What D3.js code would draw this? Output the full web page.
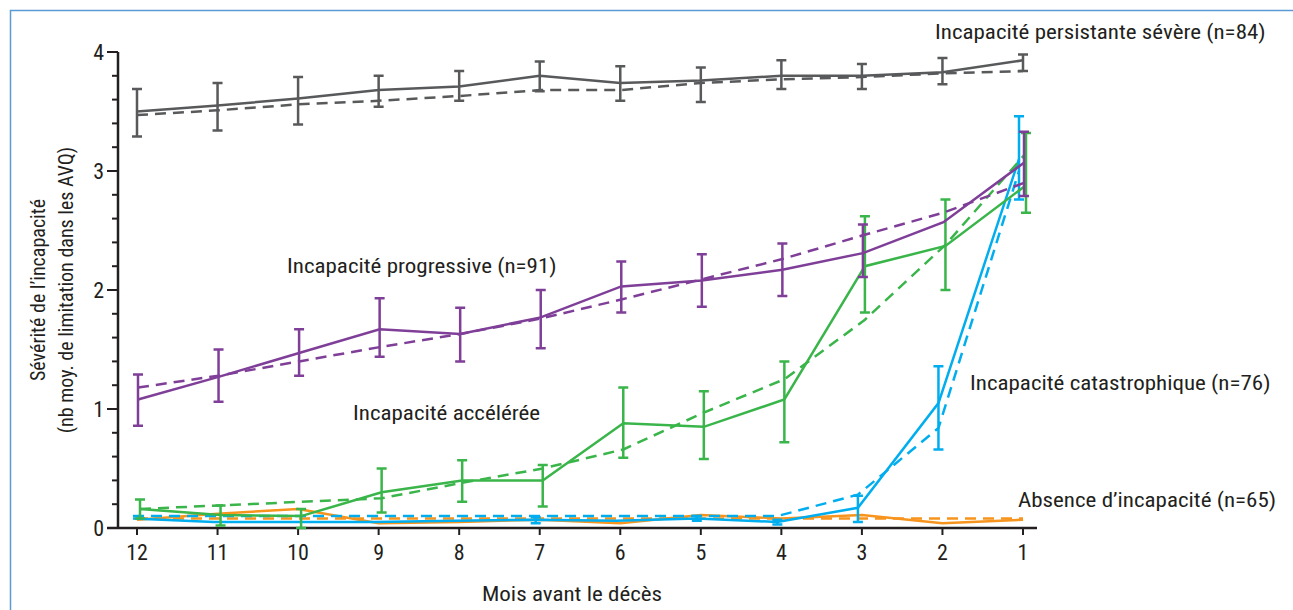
<!DOCTYPE html>
<html>
<head>
<meta charset="utf-8">
<script src="https://cdn.jsdelivr.net/npm/d3@7"></script>
<style>
  body { margin: 0; background: #fff; }
  svg text { font-family: "Liberation Sans Narrow", "Roboto Condensed", "Liberation Sans", sans-serif; fill: #231f20; }
</style>
</head>
<body>
<div id="chart"></div>
<script>
// Données (mois avant le décès : 12 -> 1)
const months = [12, 11, 10, 9, 8, 7, 6, 5, 4, 3, 2, 1];
const yTicks = [0, 1, 2, 3, 4];

// Incapacité persistante sévère
const severeObs  = [3.50, 3.55, 3.61, 3.68, 3.71, 3.80, 3.74, 3.76, 3.80, 3.80, 3.83, 3.93];
const severeFit  = [3.47, 3.51, 3.56, 3.59, 3.63, 3.68, 3.68, 3.74, 3.77, 3.79, 3.82, 3.84];
const severeLow  = [3.29, 3.34, 3.39, 3.54, 3.59, 3.67, 3.59, 3.58, 3.69, 3.69, 3.73, 3.84];
const severeHigh = [3.69, 3.74, 3.79, 3.80, 3.84, 3.92, 3.88, 3.87, 3.93, 3.90, 3.95, 3.98];

// Incapacité progressive
const progObs  = [1.08, 1.27, 1.47, 1.67, 1.63, 1.77, 2.03, 2.08, 2.17, 2.31, 2.57, 3.07];
const progFit  = [1.18, 1.28, 1.40, 1.52, 1.63, 1.76, 1.92, 2.09, 2.26, 2.46, 2.65, 2.90];
const progLow  = [0.86, 1.06, 1.28, 1.44, 1.40, 1.51, 1.81, 1.86, 1.95, 2.11, null, 2.79];
const progHigh = [1.29, 1.50, 1.67, 1.93, 1.85, 2.00, 2.24, 2.30, 2.39, 2.55, null, 3.33];

// Incapacité accélérée
const accObs  = [0.16, 0.11, 0.10, 0.30, 0.40, 0.40, 0.88, 0.85, 1.08, 2.20, 2.37, 2.88];
const accFit  = [0.16, 0.19, 0.22, 0.25, 0.38, 0.50, 0.66, 0.97, 1.25, 1.75, 2.38, 3.15];
const accLow  = [0.08, 0.02, 0.00, 0.13, 0.22, 0.18, 0.59, 0.58, 0.72, 1.81, 2.00, 2.65];
const accHigh = [0.24, 0.19, 0.16, 0.50, 0.57, 0.53, 1.18, 1.15, 1.40, 2.62, 2.76, 3.32];

// Incapacité catastrophique
const catObs  = [0.08, 0.05, 0.05, 0.05, 0.06, 0.07, 0.06, 0.08, 0.05, 0.17, 1.05, 3.10];
const catFit  = [0.10, 0.10, 0.10, 0.10, 0.10, 0.10, 0.10, 0.10, 0.10, 0.28, 0.84, 3.00];
const catLow  = [null, null, null, null, null, 0.04, null, 0.06, 0.03, 0.05, 0.66, 2.76];
const catHigh = [null, null, null, null, null, 0.09, null, 0.10, 0.07, 0.27, 1.36, 3.46];

// Absence d'incapacité
const noneObs = [0.07, 0.12, 0.16, 0.04, 0.05, 0.07, 0.04, 0.11, 0.08, 0.11, 0.04, 0.07];
const noneFit = [0.08, 0.08, 0.08, 0.08, 0.08, 0.08, 0.08, 0.08, 0.08, 0.08, 0.08, 0.08];

const series = [
  { name: "none", color: "#f7941d", dx: 0, obs: noneObs, fit: noneFit, low: null, high: null },
  { name: "cat", color: "#00aeef", dx: -4, obs: catObs, fit: catFit, low: catLow, high: catHigh },
  { name: "acc", color: "#39b54a", dx: 3, obs: accObs, fit: accFit, low: accLow, high: accHigh },
  { name: "prog", color: "#7f3f98", dx: 1, obs: progObs, fit: progFit, low: progLow, high: progHigh },
  { name: "severe", color: "#58595b", dx: 0, obs: severeObs, fit: severeFit, low: severeLow, high: severeHigh }
];

const labels = [
  { text: "Incapacité persistante sévère (n=84)", x: 935, y: 39 },
  { text: "Incapacité progressive (n=91)", x: 287, y: 273 },
  { text: "Incapacité accélérée", x: 353, y: 420 },
  { text: "Incapacité catastrophique (n=76)", x: 970, y: 390 },
  { text: "Absence d\u2019incapacité (n=65)", x: 1018, y: 507 }
];

const width = 1293, height = 610;
const stretch = 1.15; // police condensée plus large dans l'original
const svg = d3.select("#chart").append("svg")
  .attr("width", width).attr("height", height);

// Cadre bleu
svg.append("rect")
  .attr("x", 10.5).attr("y", 10.5)
  .attr("width", width).attr("height", height)
  .attr("fill", "none").attr("stroke", "#5b9bd5").attr("stroke-width", 1.5);

const x = d3.scalePoint().domain(months).range([137, 1023]);
const y = d3.scaleLinear().domain([0, 4]).range([528, 52]);

// Axe Y (graduations principales + secondaires)
const yAxis = svg.append("g").attr("transform", "translate(118,0)");
yAxis.append("line").attr("y1", y(4)).attr("y2", y(0)).attr("stroke", "#231f20").attr("stroke-width", 2.5);
yAxis.selectAll(".minor").data(d3.range(0, 4.001, 0.2)).join("line")
  .attr("x1", d => (Math.abs(d - Math.round(d)) < 1e-6) ? -11 : -6).attr("x2", 0)
  .attr("y1", d => y(d)).attr("y2", d => y(d))
  .attr("stroke", "#231f20").attr("stroke-width", 2);
yAxis.selectAll(".lab").data(yTicks).join("text")
  .attr("x", -14).attr("y", d => y(d)).attr("dy", "0.36em")
  .attr("text-anchor", "end").attr("font-size", 22).text(d => d);

// Axe X
const xAxis = svg.append("g");
xAxis.append("line").attr("x1", 107).attr("x2", 1037).attr("y1", 528).attr("y2", 528)
  .attr("stroke", "#231f20").attr("stroke-width", 2.5);
xAxis.selectAll(".tk").data(months).join("line")
  .attr("x1", d => x(d)).attr("x2", d => x(d)).attr("y1", 528).attr("y2", 535)
  .attr("stroke", "#231f20").attr("stroke-width", 2);
xAxis.selectAll(".lab").data(months).join("text")
  .attr("x", d => x(d)).attr("y", 560).attr("text-anchor", "middle")
  .attr("font-size", 22).text(d => d);

svg.append("text").attr("transform", `translate(572,601) scale(${stretch},1)`)
  .attr("text-anchor", "middle")
  .attr("font-size", 20).text("Mois avant le décès");

const yTitle = svg.append("text").attr("transform", "translate(45,290) rotate(-90)")
  .attr("text-anchor", "middle").attr("font-size", 20);
yTitle.append("tspan").attr("x", 0).attr("dy", 0).text("Sévérité de l\u2019incapacité");
yTitle.append("tspan").attr("x", 0).attr("dy", 28).text("(nb moy. de limitation dans les AVQ)");

// Séries
const line = d3.line().defined(d => d[1] != null);
series.forEach(s => {
  const g = svg.append("g");
  const px = i => x(months[i]) + s.dx;
  g.append("path")
    .attr("d", line(s.fit.map((v, i) => [px(i), y(v)])))
    .attr("fill", "none").attr("stroke", s.color).attr("stroke-width", 2.5)
    .attr("stroke-dasharray", "11,7");
  g.append("path")
    .attr("d", line(s.obs.map((v, i) => [px(i), y(v)])))
    .attr("fill", "none").attr("stroke", s.color).attr("stroke-width", 2.5);
  if (s.low) {
    const bars = months.map((m, i) => ({ i, lo: s.low[i], hi: s.high[i] })).filter(d => d.lo != null);
    g.selectAll(".eb").data(bars).join("path")
      .attr("d", d => `M${px(d.i)},${y(d.lo)}V${y(d.hi)}M${px(d.i) - 5},${y(d.lo)}H${px(d.i) + 5}M${px(d.i) - 5},${y(d.hi)}H${px(d.i) + 5}`)
      .attr("fill", "none").attr("stroke", s.color).attr("stroke-width", 2.5);
  }
});

// Étiquettes des trajectoires
svg.selectAll(".traj").data(labels).join("text")
  .attr("transform", d => `translate(${d.x},${d.y}) scale(${stretch},1)`)
  .attr("font-size", 20).text(d => d.text);
</script>
</body>
</html>
